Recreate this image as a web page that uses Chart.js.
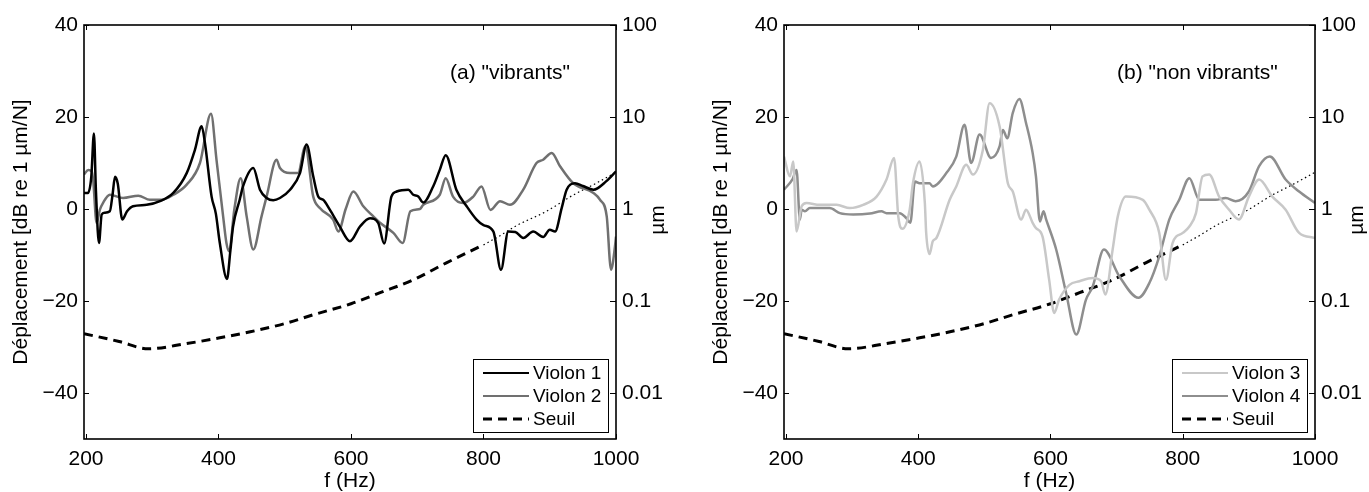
<!DOCTYPE html>
<html>
<head>
<meta charset="utf-8">
<script src="https://cdn.jsdelivr.net/npm/chart.js@4"></script>
<style>
  body { margin: 0; background: #fff; }
  #wrap { position: relative; width: 1369px; height: 492px; }
  canvas { position: absolute; top: 0; }
  #c1 { left: 0; }
  #c2 { left: 700px; }
</style>
</head>
<body>
<div id="wrap">
  <canvas id="c1" width="700" height="492"></canvas>
  <canvas id="c2" width="669" height="492"></canvas>
</div>
<script>
// axes
const hzTicks = [200, 400, 600, 800, 1000];
const dbTicks = [-40, -20, 0, 20, 40];
const umTicks = [0.01, 0.1, 1, 10, 100];

// threshold (dashed part, then dotted extension)
const seuilHz = [197, 250, 294, 350, 402, 448, 500, 543, 600, 644, 694, 744, 800];
const seuilDb = [-27.1, -28.8, -30.4, -29.3, -28.0, -26.7, -24.9, -23.0, -20.6, -18.2, -15.4, -11.7, -7.8];
const seuilDotHz = [800, 825, 850, 895, 935, 970, 1000];
const seuilDotDb = [-7.8, -5.8, -3.6, -0.5, 3.0, 5.6, 8.0];

// (a) vibrants
const v1Hz = [197,203,208,212,215,219.6,223.7,228,236,240,243.8,248,254.8,262,271,291.6,311.7,331.8,352,364.5,374.6,379.6,389.6,396,402,412.8,418,422,432,437,452.5,462.6,472.6,482.7,492.8,508,523,533,543,550.6,558,568,583.4,598.5,613.6,628.7,641,650,661,669,686.5,694,701.6,709,724,734,743,759,774.6,789.6,800,815,826.4,837.4,848,860,875,890,900,908,918,925.5,938,950,966,985,1000];
const v1Db = [3.5,3.5,7,16.4,4,-7.4,-1.2,-0.8,-0.5,3,7.0,5.5,-2.3,-0.5,0.6,0.9,1.7,3.5,7.8,12.9,18.0,14.3,2.7,-1,-7.4,-15.2,-9,-3.8,2.0,4.9,8.9,4.2,2.4,1.9,2.4,4.2,7.8,14.0,7.1,2.7,2.0,-0.15,-3.9,-7.0,-3.8,-2.0,-3.0,-7.5,2.7,3.8,4.2,3.1,2.7,1.4,4.9,8.5,11.7,4.2,0.6,-2.3,-3.5,-4.9,-13.2,-4.9,-5.0,-6.3,-4.9,-6.1,-4.5,-4.9,0.2,4.2,5.6,5.0,4.2,6,8.2];
const v2Hz = [197,203.5,208.6,211,216,221,226,236,256,279,296.6,314,332,352,372,388.7,397,407,412,416,424,433.5,442.5,452.5,465,472.6,487.6,492.8,508,520,531,543,553,573,581,592,603.5,618.6,633.7,643.8,664,678,689.6,704,709,734,743,754,769.4,784.6,797,810.6,825,840,860,880,890,903,915.5,935.5,966,976,986,992.5,998.5,1000];
const v2Db = [7.5,8.5,8.2,6,-3,-0.15,1.4,3.1,2.4,2.9,2.0,2.0,3.1,5.3,10.0,20.7,10.7,-1.6,-7.4,-9.2,0,6.7,-1.6,-8.8,-1.6,2.7,10.7,8.9,7.8,7.8,13.6,2.7,0.2,-2.3,-4.9,0,3.8,0.6,-1.6,-3.0,-5.2,-7.4,-0.5,0,0.9,3.1,6.7,2.7,1.3,2.7,4.9,-0.2,1.7,0.9,4.2,10.0,10.7,12.2,9.3,5.6,3.5,2.0,-1.6,-13.2,-8.1,-6];

// (b) non vibrants
const v3Hz = [197,206,211,216,223.7,231,251,276.5,296.6,316.7,337,352,363.5,369.8,376,387,392,402,410,412,417,422,427.5,447.5,457.5,472.6,482.7,497.8,507.9,523,535.5,543,555.7,563,573,577.6,588,598,605.6,613,628.7,643.8,664,676.5,683,694,701.8,714,739.6,749.5,764.5,774.6,784.6,800,810,820,830,840,855,870,885,900,915.5,935.5,955.6,976,1000];
const v3Db = [11.4,7.1,10.3,-4.9,0.6,1.3,0.9,0.9,0.2,0.9,2.7,6.4,11.1,-1.6,-4.3,-0.2,5.6,10.3,1.3,-5.2,-9.8,-7.0,-6.3,2.0,4.9,9.6,7.5,12.9,23.0,18.0,5.6,3.8,-2.3,-0.15,-3.0,-4.1,-6.0,-15.4,-22.6,-19.7,-16.5,-15.7,-15,-15.7,-18.6,-8.8,-1.6,2.7,2.0,-0.15,-5.2,-15.4,-7.4,-5.2,-3.8,-0.9,7.1,7.5,2.7,-0.15,-2.3,2.7,6.4,2.7,-0.15,-5.2,-6.3];
const v4Hz = [197,210,216,221,223.7,228.7,236,266,281.5,301.6,327,344.5,352,372,382,388,395,402,417,422,442.5,457.5,470,480,492.8,510,523,528,534.6,543,553,563,573,578,584,589.4,593.5,608.6,623.7,639,653.7,664,680.7,704,733,749.5,764.5,779.6,794.7,810,825,850,865,880,900,915.5,931.6,955.6,976,1000];
const v4Db = [4.2,6.5,8.5,-2.3,-0.15,-0.5,0.2,0.2,-0.9,-1.2,-1.0,-0.5,-0.9,-0.9,-2.0,-3.0,6.0,5.6,5.6,4.9,7.8,11.4,18.3,10.0,16.2,11.1,13.6,17.2,15.4,20.9,23.9,18.7,12.2,7.1,-2.7,-0.5,-2.3,-8.8,-18.3,-27.3,-19.7,-16.8,-8.8,-14.6,-19.3,-16.1,-10.3,-2.3,2.0,6.7,2.0,2.0,2.4,1.7,3.8,9.3,11.4,6.4,3.8,1.3];

const FONT = "'Liberation Sans', Arial, Helvetica, sans-serif";

function pts(hz, db) {
    return hz.map((h, i) => ({ x: h, y: db[i] }));
}

// frame, inward ticks, legend, note and right-hand title (MATLAB look)
const matlabBox = {
    id: 'matlabBox',
    afterDraw(chart, args, opts) {
        const ctx = chart.ctx;
        const a = chart.chartArea;
        const xs = chart.scales.x, ys = chart.scales.y, us = chart.scales.y2;
        ctx.save();
        ctx.strokeStyle = '#000';
        ctx.lineWidth = 1.6;
        ctx.strokeRect(a.left, a.top, a.right - a.left, a.bottom - a.top);
        ctx.lineWidth = 1;
        ctx.beginPath();
        hzTicks.forEach(v => {
            const px = Math.round(xs.getPixelForValue(v)) + 0.5;
            ctx.moveTo(px, a.top); ctx.lineTo(px, a.top + 5);
            ctx.moveTo(px, a.bottom); ctx.lineTo(px, a.bottom - 5);
        });
        dbTicks.forEach(v => {
            const py = Math.round(ys.getPixelForValue(v)) + 0.5;
            ctx.moveTo(a.left, py); ctx.lineTo(a.left + 5, py);
        });
        umTicks.forEach(v => {
            const py = Math.round(us.getPixelForValue(v)) + 0.5;
            ctx.moveTo(a.right, py); ctx.lineTo(a.right - 6, py);
        });
        ctx.stroke();

        // note
        ctx.fillStyle = '#000';
        ctx.font = '21px ' + FONT;
        ctx.textBaseline = 'middle';
        ctx.textAlign = 'left';
        ctx.fillText(opts.note, opts.noteX, 73);

        // right title
        ctx.save();
        ctx.translate(a.right + 42, (a.top + a.bottom) / 2 - 12);
        ctx.rotate(-Math.PI / 2);
        ctx.textAlign = 'center';
        ctx.fillText('\u00b5m', 0, 0);
        ctx.restore();

        // legend
        const bw = 135, bh = 73;
        const bx = a.right - 8 - bw, by = a.bottom - 7 - bh;
        ctx.fillStyle = '#fff';
        ctx.fillRect(bx, by, bw, bh);
        ctx.lineWidth = 1;
        ctx.strokeStyle = '#000';
        ctx.strokeRect(bx + 0.5, by + 0.5, bw, bh);
        const rows = [14, 37, 60];
        chart.data.datasets.slice(0, 3).forEach((ds, i) => {
            const y = by + rows[i];
            ctx.beginPath();
            ctx.strokeStyle = ds.borderColor;
            ctx.lineWidth = ds.borderDash ? 3 : 2;
            ctx.setLineDash(ds.borderDash || []);
            ctx.moveTo(bx + 10, y); ctx.lineTo(bx + 56, y);
            ctx.stroke();
            ctx.setLineDash([]);
            ctx.fillStyle = '#000';
            ctx.font = '19px ' + FONT;
            ctx.textAlign = 'left';
            ctx.fillText(ds.label, bx + 60, y + 1);
        });
        ctx.restore();
    }
};

function makePanel(id, curves, note, noteX, rightWidth) {
    const datasets = curves.map(c => ({
        label: c.label,
        data: pts(c.hz, c.db),
        borderColor: c.color,
        borderWidth: 2.5,
        pointRadius: 0,
        cubicInterpolationMode: 'monotone',
        yAxisID: 'y'
    }));
    datasets.push({
        label: 'Seuil',
        data: pts(seuilHz, seuilDb),
        borderColor: '#000',
        borderWidth: 3,
        borderDash: [9, 6],
        pointRadius: 0,
        cubicInterpolationMode: 'monotone',
        yAxisID: 'y'
    });
    datasets.push({
        label: 'Seuil (extrapolé)',
        data: pts(seuilDotHz, seuilDotDb),
        borderColor: '#000',
        borderWidth: 1.2,
        borderDash: [1.5, 3],
        pointRadius: 0,
        cubicInterpolationMode: 'monotone',
        yAxisID: 'y'
    });
    // first listed curve drawn on top
    datasets.forEach((d, i) => d.order = i);

    const tickFont = { family: FONT, size: 21 };
    const titleFont = { family: FONT, size: 21, lineHeight: 1 };
    const noGrid = { display: false, drawTicks: false };
    new Chart(document.getElementById(id), {
        type: 'line',
        data: { datasets: datasets },
        options: {
            responsive: false,
            animation: false,
            layout: { padding: { top: 25, left: 0, right: 0, bottom: 0 } },
            plugins: {
                legend: { display: false },
                tooltip: { enabled: false },
                matlabBox: { note: note, noteX: noteX }
            },
            scales: {
                x: {
                    type: 'linear',
                    min: 197, max: 1000,
                    grid: noGrid,
                    border: { display: false },
                    afterBuildTicks: s => { s.ticks = hzTicks.map(v => ({ value: v })); },
                    afterFit: s => { s.height = 53; },
                    ticks: { font: tickFont, color: '#000', padding: 8, maxRotation: 0, callback: v => String(v) },
                    title: { display: true, text: 'f (Hz)', font: titleFont, color: '#000', padding: { top: 0, bottom: 0 } }
                },
                y: {
                    type: 'linear',
                    position: 'left',
                    min: -50, max: 40,
                    grid: noGrid,
                    border: { display: false },
                    afterBuildTicks: s => { s.ticks = dbTicks.map(v => ({ value: v })); },
                    afterFit: s => { s.width = 84; },
                    ticks: {
                        font: tickFont, color: '#000', padding: 6,
                        callback: v => v < 0 ? '\u2212' + Math.abs(v) : String(v)
                    },
                    title: { display: true, text: 'D\u00e9placement [dB re 1 \u00b5m/N]', font: titleFont, color: '#000', padding: { top: 11, bottom: 0 } }
                },
                y2: {
                    type: 'logarithmic',
                    position: 'right',
                    min: Math.pow(10, -2.5), max: 100,
                    grid: noGrid,
                    border: { display: false },
                    afterBuildTicks: s => { s.ticks = umTicks.map(v => ({ value: v })); },
                    afterFit: s => { s.width = rightWidth; },
                    ticks: { font: tickFont, color: '#000', padding: 6, callback: v => String(v) }
                }
            }
        },
        plugins: [matlabBox]
    });
}

makePanel('c1', [
    { label: 'Violon 1', hz: v1Hz, db: v1Db, color: '#000000' },
    { label: 'Violon 2', hz: v2Hz, db: v2Db, color: '#707070' }
], '(a) "vibrants"', 450, 84);

makePanel('c2', [
    { label: 'Violon 3', hz: v3Hz, db: v3Db, color: '#c8c8c8' },
    { label: 'Violon 4', hz: v4Hz, db: v4Db, color: '#8e8e8e' }
], '(b) "non vibrants"', 417, 54);
</script>
</body>
</html>
